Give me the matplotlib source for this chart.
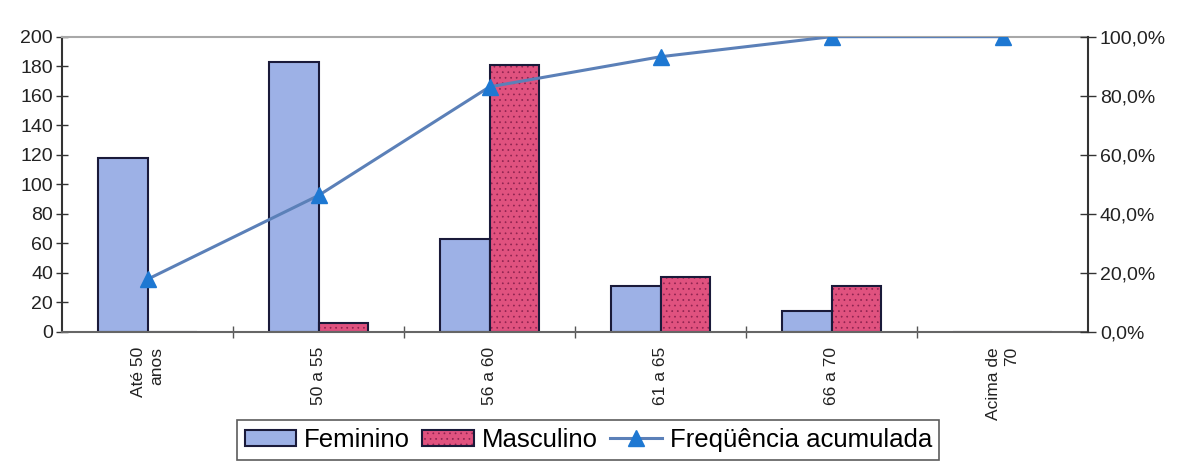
import numpy as np
import matplotlib
matplotlib.use('Agg')
import matplotlib.pyplot as plt
from matplotlib.ticker import FuncFormatter, MultipleLocator
from matplotlib.patches import Patch
from matplotlib.lines import Line2D
from matplotlib.legend_handler import HandlerTuple

plt.rcParams['font.family'] = ['Liberation Sans', 'DejaVu Sans']
plt.rcParams['hatch.linewidth'] = 0.5

categories = ['Até 50\nanos', '50 a 55', '56 a 60', '61 a 65', '66 a 70', 'Acima de\n70']
feminino = [118, 183, 63, 31, 14, 0]
masculino = [0, 6, 181, 37, 31, 0]
freq_acum = [17.8, 46.2, 83.0, 93.2, 100.0, 100.0]

fem_color = '#9DB1E6'
masc_color = '#E0527F'
dot_color = '#8E2350'
edge = '#1A1A3A'
line_color = '#5B80B8'
marker_color = '#1E78D2'

fig = plt.figure(figsize=(11.81, 4.70), dpi=100)
ax = fig.add_axes([0.0525, 0.294, 0.8688, 0.628])

x = np.arange(len(categories))
w = 0.29
ax.bar(x - w / 2, feminino, w, color=fem_color, edgecolor=edge, linewidth=1.5, zorder=2)
# dotted fill first, then the dark outline on top
ax.bar(x + w / 2, masculino, w, color=masc_color, edgecolor=dot_color, linewidth=0,
       hatch='...', zorder=2)
ax.bar(x + w / 2, masculino, w, fill=False, edgecolor=edge, linewidth=1.5, zorder=2)

ax.set_xlim(-0.5, len(categories) - 0.5)
ax.set_ylim(0, 200)
ax.yaxis.set_major_locator(MultipleLocator(20))
ax.tick_params(axis='y', direction='inout', length=9, width=1, labelsize=14, pad=2,
               colors='#333333', labelcolor='#222222')

# category boundaries get the tick marks, labels go on the centres
ax.set_xticks(np.arange(0.5, len(categories) - 1, 1))
ax.set_xticklabels([])
ax.tick_params(axis='x', which='major', direction='inout', length=9, width=1, colors='#555555')
ax.set_xticks(x, minor=True)
ax.set_xticklabels(categories, minor=True, rotation=90, fontsize=12.5, va='top',
                   ha='center', multialignment='right', linespacing=1.3, color='#222222')
ax.tick_params(axis='x', which='minor', length=0, pad=11)

ax.spines['top'].set_color('#A8A8A8')
ax.spines['top'].set_linewidth(1.5)
ax.spines['left'].set_color('#333333')
ax.spines['left'].set_linewidth(1.5)
ax.spines['bottom'].set_color('#666666')
ax.spines['bottom'].set_linewidth(1.5)
ax.spines['right'].set_visible(False)

ax2 = ax.twinx()
ax2.plot(x, freq_acum, color=line_color, linewidth=2.2, marker='^', markersize=11,
         markerfacecolor=marker_color, markeredgecolor=marker_color, zorder=3)
ax2.set_ylim(0, 100)
ax2.yaxis.set_major_locator(MultipleLocator(20))
ax2.yaxis.set_major_formatter(FuncFormatter(lambda v, p: f'{v:.1f}%'.replace('.', ',')))
ax2.tick_params(axis='y', direction='inout', length=11, width=1, labelsize=14, pad=3,
                colors='#333333', labelcolor='#222222')
for s in ['top', 'left', 'bottom']:
    ax2.spines[s].set_visible(False)
ax2.spines['right'].set_color('#333333')
ax2.spines['right'].set_linewidth(1.5)

h_fem = Patch(facecolor=fem_color, edgecolor=edge, linewidth=1.5)
h_masc = (Patch(facecolor=masc_color, edgecolor=dot_color, linewidth=0, hatch='...'),
          Patch(fill=False, edgecolor=edge, linewidth=1.5))
h_line = Line2D([0], [0], color=line_color, linewidth=2.2, marker='^', markersize=11,
                markerfacecolor=marker_color, markeredgecolor=marker_color)
labels = ['Feminino', 'Masculino', 'Freqüência acumulada']
leg = fig.legend([h_fem, h_masc, h_line], labels, loc='upper center',
                 bbox_to_anchor=(0.498, 0.106), ncol=3, fontsize=18.5, frameon=True,
                 fancybox=False, handlelength=2.0, handleheight=0.6, handletextpad=0.3,
                 columnspacing=0.5, borderpad=0.3, borderaxespad=0,
                 handler_map={tuple: HandlerTuple(ndivide=1, pad=0)})
leg.get_frame().set_edgecolor('#333333')
leg.get_frame().set_linewidth(1.2)

fig.savefig('out.png', dpi=100)
